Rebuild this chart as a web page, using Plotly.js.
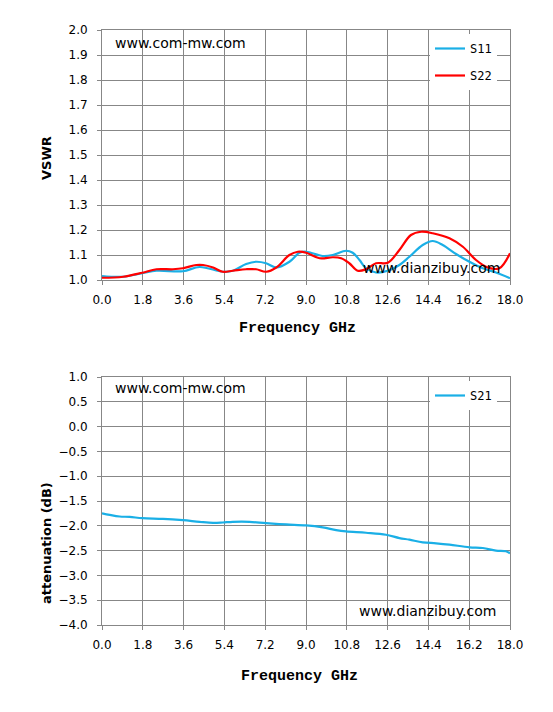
<!DOCTYPE html>
<html><head><meta charset="utf-8">
<script src="https://cdn.plot.ly/plotly-3.0.1.min.js"></script>
<style>html,body{margin:0;padding:0;background:#fff;}#chart{width:553px;height:712px;}</style>
</head><body><div id="chart"></div>
<script>
// S11 (VSWR)
const s11Freq = [0.0,0.93,1.78,2.40,3.57,4.31,5.33,5.77,6.36,6.80,7.24,7.69,8.27,8.71,9.01,9.74,10.18,10.77,11.06,11.36,11.65,12.09,12.61,13.12,13.56,14.15,14.59,15.03,15.62,16.21,16.80,17.38,18.0];
const s11Vals = [1.016,1.013,1.027,1.037,1.035,1.052,1.033,1.037,1.064,1.073,1.067,1.050,1.073,1.109,1.113,1.096,1.100,1.117,1.109,1.080,1.047,1.030,1.037,1.060,1.093,1.140,1.156,1.140,1.104,1.073,1.047,1.030,1.007];
// S22 (VSWR)
const s22Freq = [0.0,0.93,1.78,2.40,3.13,3.57,4.16,4.46,4.90,5.33,5.77,6.36,6.80,7.24,7.69,8.27,8.64,9.01,9.60,10.18,10.55,10.91,11.28,11.65,12.09,12.61,13.12,13.63,14.08,14.59,15.33,15.92,16.50,17.02,17.53,18.0];
const s22Vals = [1.009,1.013,1.029,1.043,1.043,1.047,1.060,1.060,1.050,1.033,1.037,1.043,1.043,1.033,1.050,1.100,1.113,1.109,1.087,1.091,1.087,1.067,1.037,1.043,1.067,1.069,1.120,1.180,1.193,1.187,1.167,1.133,1.080,1.050,1.047,1.107];
// S21 (attenuation dB)
const s21Freq = [0.0,0.34,0.78,1.22,1.78,2.69,3.57,4.31,4.90,5.33,5.77,6.51,7.24,8.13,9.01,9.74,10.33,10.77,11.65,12.53,13.12,13.56,14.15,14.74,15.33,16.21,16.80,17.38,17.82,18.0];
const s21Vals = [-1.747,-1.78,-1.813,-1.82,-1.847,-1.86,-1.887,-1.92,-1.94,-1.933,-1.92,-1.92,-1.947,-1.973,-1.993,-2.033,-2.087,-2.113,-2.14,-2.18,-2.247,-2.28,-2.333,-2.353,-2.38,-2.433,-2.447,-2.50,-2.513,-2.553];

const W = 553, H = 712;
const gridC = '#878787';
const tickFont = {family: 'DejaVu Sans, sans-serif', size: 12, color: '#000'};
const xTitleFont = {family: 'Liberation Mono, DejaVu Sans Mono, monospace', size: 15, color: '#000', weight: 'bold'};
const yTitleFont = {family: 'DejaVu Sans, sans-serif', size: 13, color: '#000', weight: 'bold'};
const legFont = {family: 'DejaVu Sans Mono, monospace', size: 12, color: '#000'};

function xAx(dom, anchor) {
  return {domain: dom, anchor: anchor, range: [0, 18], dtick: 1.8, tick0: 0, tickformat: '.1f',
    showgrid: true, gridcolor: gridC, gridwidth: 1, showline: true, linecolor: gridC, linewidth: 1, mirror: true,
    ticks: 'outside', ticklen: 4, tickcolor: gridC, tickfont: tickFont, ticklabelstandoff: 5,
    zeroline: false, fixedrange: true};
}
function yAx(dom, anchor, range, dt) {
  return {domain: dom, anchor: anchor, range: range, dtick: dt, tick0: range[0], tickformat: '.1f',
    showgrid: true, gridcolor: gridC, gridwidth: 1, showline: true, linecolor: gridC, linewidth: 1, mirror: true,
    ticks: 'outside', ticklen: 4, tickcolor: gridC, tickfont: tickFont, ticklabelstandoff: 7,
    zeroline: false, fixedrange: true};
}

const xd = [102 / W, 510 / W];
const y1d = [1 - 280 / H, 1 - 30 / H];
const y2d = [1 - 625 / H, 1 - 377 / H];

const traces = [
  {x: s11Freq, y: s11Vals, name: 'S11', type: 'scatter', mode: 'lines', xaxis: 'x', yaxis: 'y',
   line: {color: '#1AAFE6', width: 2.2, shape: 'spline', smoothing: 1}, legend: 'legend', legendgroup: 'a'},
  {x: s22Freq, y: s22Vals, name: 'S22', type: 'scatter', mode: 'lines', xaxis: 'x', yaxis: 'y',
   line: {color: '#FF0000', width: 2.2, shape: 'spline', smoothing: 1}, legend: 'legend', legendgroup: 'b'},
  {x: s21Freq, y: s21Vals, name: 'S21', type: 'scatter', mode: 'lines', xaxis: 'x2', yaxis: 'y2',
   line: {color: '#1AAFE6', width: 2.2, shape: 'spline', smoothing: 1}, legend: 'legend2'}
];

const annFont = {family: 'DejaVu Sans, sans-serif', size: 14, color: '#000'};
function pa(text, px, py, font, extra) {
  return Object.assign({text: text, xref: 'paper', yref: 'paper', x: px / W, y: 1 - py / H,
    xanchor: 'left', yanchor: 'middle', showarrow: false, font: font}, extra || {});
}
const layout = {
  width: W, height: H, paper_bgcolor: '#fff', plot_bgcolor: '#fff',
  margin: {l: 0, r: 0, t: 0, b: 0, autoexpand: false},
  showlegend: true,
  xaxis: xAx(xd, 'y'),
  yaxis: yAx(y1d, 'x', [1, 2], 0.1),
  xaxis2: xAx(xd, 'y2'),
  yaxis2: yAx(y2d, 'x2', [-4, 1], 0.5),
  legend: {x: 430 / W, y: 1 - 34 / H, xanchor: 'left', yanchor: 'top', bgcolor: '#fff', borderwidth: 0,
    font: legFont, itemwidth: 30, traceorder: 'grouped', tracegroupgap: 8},
  legend2: {x: 430 / W, y: 1 - 381 / H, xanchor: 'left', yanchor: 'top', bgcolor: '#fff', borderwidth: 0,
    font: legFont, itemwidth: 30},
  annotations: [
    pa('www.com-mw.com', 113, 43, annFont),
    pa('www.dianzibuy.com', 361, 268, annFont),
    pa('www.com-mw.com', 113, 388, annFont),
    pa('www.dianzibuy.com', 357, 611, annFont),
    pa('Frequency GHz', 297, 328, xTitleFont, {xanchor: 'center'}),
    pa('Frequency GHz', 299, 676, xTitleFont, {xanchor: 'center'}),
    pa('VSWR', 46, 158, yTitleFont, {xanchor: 'center', textangle: -90}),
    pa('attenuation (dB)', 46, 543, yTitleFont, {xanchor: 'center', textangle: -90})
  ]
};

Plotly.newPlot('chart', traces, layout, {displayModeBar: false, staticPlot: true});
</script></body></html>
